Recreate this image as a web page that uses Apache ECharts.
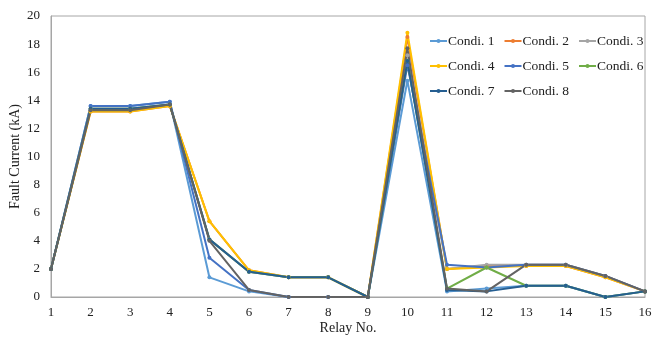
<!DOCTYPE html>
<html>
<head>
<meta charset="utf-8">
<script src="https://cdn.jsdelivr.net/npm/echarts@6/dist/echarts.min.js"></script>
<style>
  html, body { margin: 0; padding: 0; background: #fff; }
  #chart { width: 656px; height: 344px; }
</style>
</head>
<body>
<div id="chart"></div>
<script>
// relay numbers on the x axis
const relays = ['1', '2', '3', '4', '5', '6', '7', '8', '9', '10', '11', '12', '13', '14', '15', '16']

// fault current (kA) per condition
const condi1 = [2, 13.6, 13.6, 13.9, 1.4, 0.4, 0, 0, 0, 15.4, 0.4, 0.6, 0.8, 0.8, 0, 0.4]
const condi2 = [2, 13.2, 13.2, 13.6, 5.4, 1.9, 1.4, 1.4, 0, 18.5, 2.0, 2.2, 2.2, 2.2, 1.4, 0.4]
const condi3 = [2, 13.4, 13.4, 13.7, 4.1, 1.8, 1.4, 1.4, 0, 17.2, 2.0, 2.3, 2.3, 2.3, 1.5, 0.4]
const condi4 = [2, 13.2, 13.2, 13.6, 5.4, 1.9, 1.4, 1.4, 0, 18.8, 2.0, 2.1, 2.2, 2.2, 1.4, 0.4]
const condi5 = [2, 13.6, 13.6, 13.9, 2.8, 0.5, 0, 0, 0, 16.5, 2.3, 2.1, 2.3, 2.3, 1.5, 0.4]
const condi6 = [2, 13.4, 13.4, 13.7, 4.1, 1.8, 1.4, 1.4, 0, 16.8, 0.6, 2.1, 0.8, 0.8, 0, 0.4]
const condi7 = [2, 13.4, 13.4, 13.7, 4.1, 1.8, 1.4, 1.4, 0, 16.8, 0.5, 0.4, 0.8, 0.8, 0, 0.4]
const condi8 = [2, 13.3, 13.3, 13.7, 4.0, 0.5, 0, 0, 0, 17.7, 0.6, 0.4, 2.3, 2.3, 1.5, 0.4]

const names = ['Condi. 1', 'Condi. 2', 'Condi. 3', 'Condi. 4', 'Condi. 5', 'Condi. 6', 'Condi. 7', 'Condi. 8']
const values = [condi1, condi2, condi3, condi4, condi5, condi6, condi7, condi8]

// excel office palette
const colors = ['#5b9bd5', '#ed7d31', '#a5a5a5', '#ffc000', '#4472c4', '#70ad47', '#255e91', '#636363']

const font = '"Liberation Serif", "Times New Roman", serif'

const chart = echarts.init(document.getElementById('chart'))

// one legend per row so the rows sit 25px apart like the original
const legendRow = (data, top) => ({
  data: data,
  left: 424,
  top: top,
  itemWidth: 17,
  itemHeight: 5,
  itemGap: 9,
  textStyle: { fontFamily: font, fontSize: 13.5, color: '#222', padding: [0, 0, 0, -4] }
})

const option = {
  animation: false,
  color: colors,
  grid: {
    left: 51,
    right: 11,
    top: 16,
    bottom: 47,
    outerBoundsMode: 'none',
    show: true,
    borderColor: '#a6a6a6',
    borderWidth: 1
  },
  legend: [
    legendRow(names.slice(0, 3), 29),
    legendRow(names.slice(3, 6), 54),
    legendRow(names.slice(6, 8), 79)
  ],
  xAxis: {
    type: 'category',
    data: relays,
    boundaryGap: false,
    name: 'Relay No.',
    nameLocation: 'middle',
    nameGap: 24,
    nameMoveOverlap: false,
    nameTextStyle: { fontFamily: font, fontSize: 14, color: '#222' },
    axisLine: { lineStyle: { color: '#a6a6a6' } },
    axisTick: { show: false },
    axisLabel: { fontFamily: font, fontSize: 13, color: '#222', margin: 9 },
    splitLine: { show: false }
  },
  yAxis: {
    type: 'value',
    min: 0,
    max: 20,
    interval: 2,
    name: 'Fault Current (kA)',
    nameLocation: 'middle',
    nameGap: 29,
    nameMoveOverlap: false,
    nameTextStyle: { fontFamily: font, fontSize: 14, color: '#222' },
    axisLine: { show: true, lineStyle: { color: '#a6a6a6' } },
    axisTick: { show: false },
    axisLabel: { fontFamily: font, fontSize: 13, color: '#222', margin: 11 },
    splitLine: { show: false }
  },
  series: names.map((name, i) => ({
    name: name,
    type: 'line',
    data: values[i],
    symbol: 'circle',
    symbolSize: 4,
    lineStyle: { width: 2 },
    itemStyle: { color: colors[i] }
  }))
}

chart.setOption(option)
</script>
</body>
</html>
